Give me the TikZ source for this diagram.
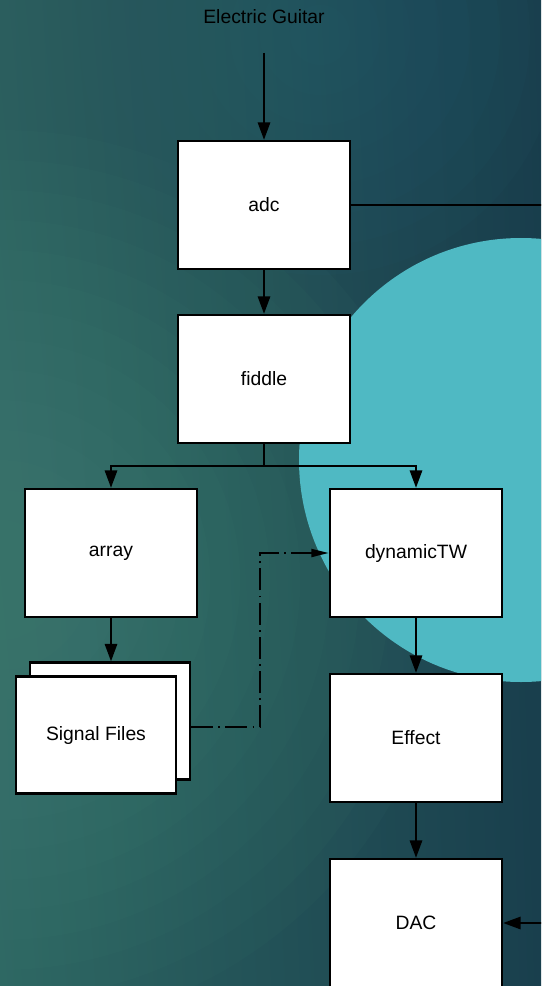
\documentclass[tikz,border=0pt]{standalone}
\usepackage{fontspec}
\setmainfont{Liberation Sans}
\usetikzlibrary{arrows.meta, positioning, calc, shadings}

\definecolor{bgUL}{HTML}{2B5E5E}
\definecolor{bgUR}{HTML}{183D4C}
\definecolor{bgLL}{HTML}{2C6461}
\definecolor{bgLR}{HTML}{193F4D}
\definecolor{bgglow}{HTML}{4A8E7C}
\definecolor{toplight}{HTML}{2A6678}
\definecolor{blob}{HTML}{4FB9C3}

\begin{document}
\begin{tikzpicture}[
    x=0.02cm, y=-0.02cm,
    box/.style={draw=black, fill=white, line width=1.3pt, inner sep=0pt,
                minimum width=3.44cm, minimum height=2.56cm,
                font=\fontsize{11}{13}\selectfont},
    sheet/.style={box, minimum width=3.2cm, minimum height=2.34cm},
    arr/.style={-{Triangle[length=10pt, width=7pt]}, line width=1.3pt},
    slim/.style={-{Triangle[length=10pt, width=4.5pt]}},
    link/.style={line width=1.3pt},
    dashdot/.style={dash pattern=on 12.5pt off 3pt on 1pt off 3pt}
]
% background
\useasboundingbox (0,0) rectangle (541,986);
\clip (0,0) rectangle (541,986);
\shade[upper left=bgUL, upper right=bgUR, lower left=bgLL, lower right=bgLR]
  (0,0) rectangle (541,986);
\foreach \r in {60,90,...,450}
  \fill[bgglow, opacity=0.05] (0,580) circle (\r);
\foreach \r in {30,60,...,240}
  \fill[toplight, opacity=0.06] (320,35) circle (\r);
\fill[blob] (521,460) circle (222);

% blocks
\node[font=\fontsize{11}{13}\selectfont] (guitar) at (264,17) {Electric Guitar};
\coordinate (gin) at (264,53);
\node[box] (adc)    at (264,205) {adc};
\node[box] (fiddle) at (264,379) {fiddle};
\coordinate (split) at (264,466);
\node[box] (array)  at (111,553) {array};
\node[box] (dyn)    at (416,553) {dynamicTW};
\node[box] (effect) at (416,738) {Effect};
\node[box] (dac)    at (416,923) {DAC};
% stacked signal files
\node[sheet] (sigback) at (110,721) {};
\node[sheet] (sig)     at (96,735)  {\raisebox{-4pt}{Signal Files}};
\coordinate (bend)   at (260,727);
\coordinate (adcout) at (560,205);
\coordinate (dacin)  at (560,923);

% connectors
\draw[arr] (gin) -- (adc);
\draw[link] (adc.east) -- (adcout);
\draw[arr] (adc) -- (fiddle);
\draw[link] (fiddle.south) -- (split);
\draw[arr] (split) -| (array);
\draw[arr] (split) -| (dyn);
\draw[arr] (array) -- (array |- sigback.north);
\draw[arr, slim, dashdot] ($(sigback.east)+(0,6)$) -- (bend) |- (dyn);
\draw[arr] (dyn) -- (effect);
\draw[arr] (effect) -- (dac);
\draw[arr] (dacin) -- (dac);
\end{tikzpicture}
\end{document}
